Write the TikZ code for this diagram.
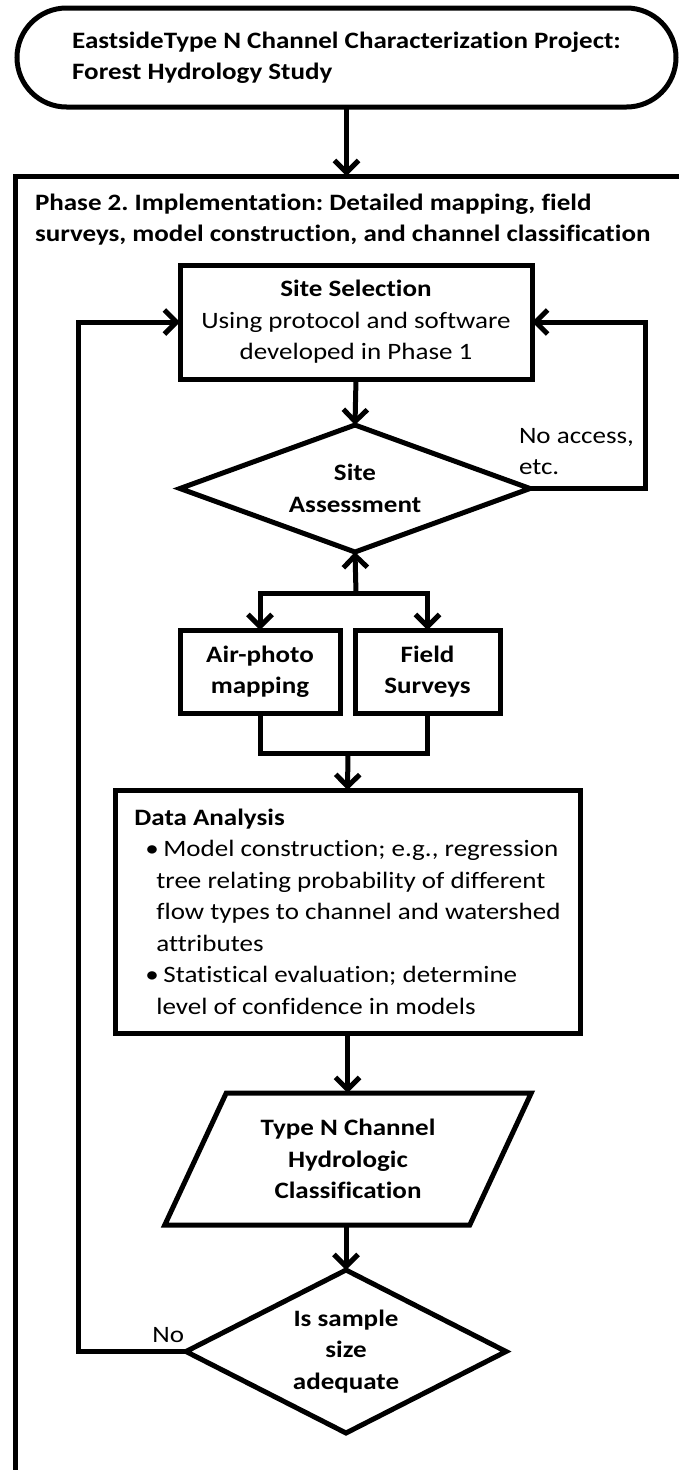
\documentclass[tikz,border=0pt]{standalone}
\usepackage{fontspec}
\setmainfont{Carlito}[FakeStretch=1.15, Ligatures=NoCommon]
\usetikzlibrary{shapes.geometric,arrows.meta}
\tikzset{inner sep=0pt, outer sep=0pt}
\tikzset{
  every node/.style={font=\fontsize{23.5}{31.5}\selectfont},
  flowbox/.style={draw, line width=5pt, rectangle, align=center},
  boldtext/.style={font=\fontsize{23.5}{31.5}\selectfont\bfseries},
  decision/.style={draw, line width=5pt, diamond, align=center, boldtext},
  flowline/.style={line width=5pt},
  flowarrow/.style={line width=5pt, -{Straight Barb[length=12pt,width=24pt]}},
}

\begin{document}
\frenchspacing
\begin{tikzpicture}[x=1pt, y=-1pt]
\useasboundingbox (0,0) rectangle (678,1470);

% project and phase frame
\node[flowbox, boldtext, align=left, rounded corners=49.5pt, minimum width=659pt, minimum height=99pt] (project) at (346.5,57.5) {EastsideType N Channel Characterization Project:\\Forest Hydrology Study};
\node[flowbox, anchor=north west, minimum width=690pt, minimum height=1310pt] (phase) at (15,176) {};
\node[boldtext, anchor=north west, align=left] (phaselabel) at (35,194) {Phase 2. Implementation: Detailed mapping, field\\surveys, model construction, and channel classification};

% steps
\node[flowbox, minimum width=352pt, minimum height=114pt] (select) at (356,322) {\textbf{Site Selection}\\Using protocol and software\\developed in Phase 1};
\node[decision, aspect=2.76, minimum width=350pt, minimum height=127pt] (assess) at (355,488.5) {Site\\Assessment};
\node[anchor=north west, align=left] (noaccess) at (519,428) {No access,\\etc.};
\node[flowbox, boldtext, minimum width=160pt, minimum height=83pt] (air) at (260,671.5) {Air-photo\\mapping};
\node[flowbox, boldtext, minimum width=145pt, minimum height=83pt] (field) at (427.5,671.5) {Field\\Surveys};
\node[flowbox, align=left, minimum width=465pt, minimum height=243pt] (analysis) at (347.5,911.5) {\textbf{Data Analysis}\\
\hspace*{11pt}\makebox[18pt][l]{•}Model construction; e.g., regression\\
\hspace*{22pt}tree relating probability of different\\
\hspace*{22pt}flow types to channel and watershed\\
\hspace*{22pt}attributes\\
\hspace*{11pt}\makebox[18pt][l]{•}Statistical evaluation; determine\\
\hspace*{22pt}level of confidence in models};
\node[draw, line width=5pt, trapezium, trapezium left angle=61, trapezium right angle=119, trapezium stretches=true, minimum width=368pt, minimum height=132pt, align=center, boldtext] (result) at (348,1159) {Type N Channel\\Hydrologic\\Classification};
\node[decision, aspect=1.96, minimum width=320pt, minimum height=163pt] (sample) at (346,1351.5) {Is sample\\size\\adequate};
\node[anchor=base east] (nolabel) at (184,1342) {No};

\coordinate (leftloop) at (78,0);
\coordinate (rightloop) at (645,0);
\coordinate (split) at (356,593);
\coordinate (merge) at (348,753);

% connectors
\draw[flowarrow] (project.south) -- (project.south |- phase.north);
\draw[flowarrow] (select.south) -- (assess.north);
\draw[flowarrow] (assess.east) -- (assess.east -| rightloop) |- (select.east);
\draw[flowarrow] (split) -- (assess.south);
\draw[flowarrow] (split) -| (air.north);
\draw[flowarrow] (split) -| (field.north);
\draw[flowline] (air.south) |- (merge) -| (field.south);
\draw[flowarrow] (merge) -- (analysis.north);
\draw[flowarrow] (analysis.south) -- (analysis.south |- result.north);
\draw[flowarrow] (result.south -| sample.north) -- (sample.north);
\draw[flowarrow] (sample.west) -- (sample.west -| leftloop) |- (select.west);
\end{tikzpicture}
\end{document}
